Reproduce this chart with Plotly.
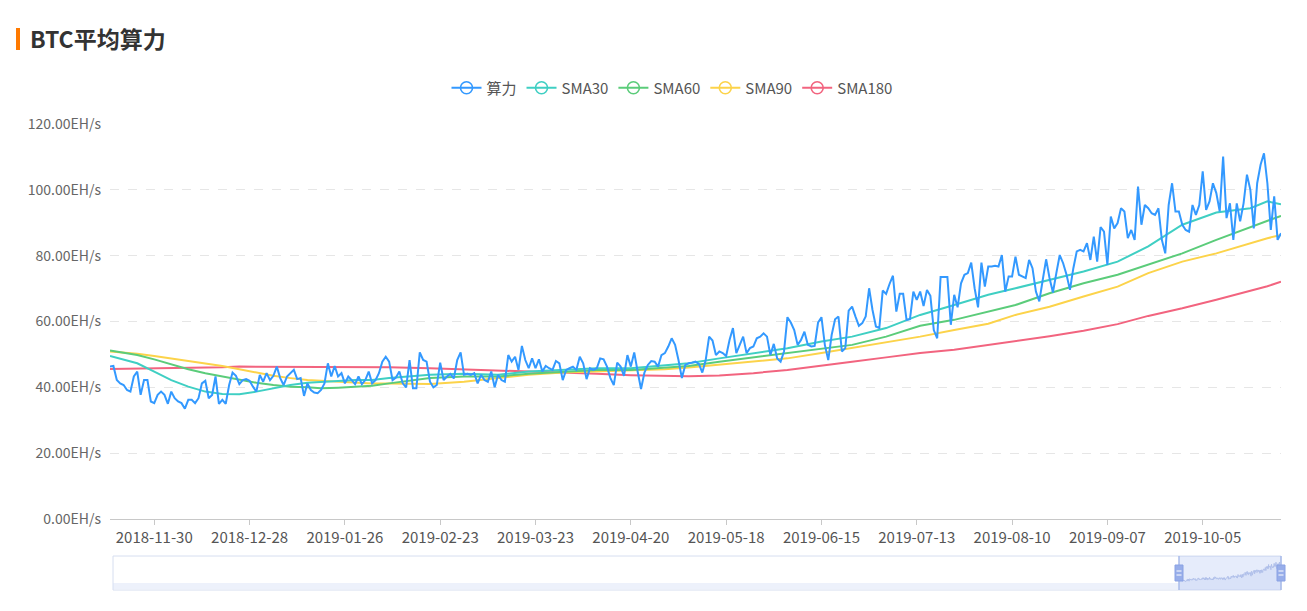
import pandas as pd
import plotly.graph_objects as go

# ---- categories (daily, one day missing in source data) ----
_all = pd.date_range("2018-11-17", "2019-10-28", freq="D")
DATES = [d.strftime("%Y-%m-%d") for d in _all if d.strftime("%Y-%m-%d") != "2019-01-08"]

TICK_LABELS = ["2018-11-30", "2018-12-28", "2019-01-26", "2019-02-23", "2019-03-23",
               "2019-04-20", "2019-05-18", "2019-06-15", "2019-07-13", "2019-08-10",
               "2019-09-07", "2019-10-05"]

# ---- 算力 (EH/s), daily ----
HASHRATE = [
    46.3, 46.5, 42.2, 41.2, 40.7, 39.2, 38.7, 43.3, 44.8, 37.7,
    42.2, 42.2, 35.7, 35.2, 37.7, 38.7, 37.7, 35.0, 38.7, 36.7,
    35.7, 35.2, 33.5, 36.2, 36.2, 35.2, 36.7, 41.2, 42.0, 36.7,
    37.7, 43.3, 35.0, 36.2, 35.0, 40.7, 44.5, 43.5, 41.0, 42.2,
    42.5, 42.0, 40.2, 38.7, 43.8, 41.7, 44.3, 42.2, 43.5, 46.3,
    42.8, 40.7, 43.3, 44.3, 45.3, 42.5, 42.8, 37.4, 41.2, 39.2,
    38.4, 38.2, 39.2, 41.2, 47.3, 43.3, 46.5, 43.3, 44.3, 41.2,
    43.3, 42.2, 41.0, 43.3, 41.0, 42.2, 44.8, 41.2, 42.2, 44.3,
    47.8, 49.3, 47.8, 42.2, 43.0, 44.8, 41.2, 40.0, 48.3, 39.7,
    39.7, 50.6, 48.3, 47.8, 41.7, 40.0, 40.7, 47.5, 42.2, 43.3,
    44.1, 42.7, 48.3, 50.6, 43.8, 44.1, 43.8, 44.3, 41.2, 43.8,
    42.2, 41.7, 44.8, 40.0, 43.8, 42.2, 41.7, 49.8, 47.8, 49.3,
    45.3, 52.6, 48.3, 45.8, 48.8, 45.8, 48.5, 44.8, 46.5, 45.8,
    45.3, 48.0, 47.3, 42.2, 45.3, 45.8, 46.3, 45.3, 49.3, 47.3,
    42.5, 45.8, 45.3, 45.8, 48.8, 48.5, 46.3, 42.8, 40.7, 47.5,
    46.3, 43.5, 49.8, 46.3, 50.6, 44.8, 39.5, 44.5, 46.8, 48.0,
    47.8, 46.3, 49.8, 50.4, 52.4, 54.9, 52.9, 48.3, 42.8, 46.8,
    47.3, 47.5, 47.8, 47.1, 44.5, 48.3, 55.4, 54.2, 49.8, 50.9,
    50.4, 49.5, 54.4, 58.0, 50.4, 52.9, 55.4, 50.4, 51.9, 52.4,
    54.9, 55.4, 56.4, 55.4, 49.8, 53.2, 48.8, 47.8, 50.9, 61.3,
    59.7, 57.4, 52.9, 54.4, 56.9, 52.9, 52.4, 52.6, 59.7, 61.3,
    52.9, 48.3, 55.9, 60.7, 61.5, 50.9, 51.9, 63.3, 64.5, 61.5,
    58.7, 59.5, 61.5, 70.1, 63.5, 58.5, 58.0, 69.4, 68.4, 71.4,
    73.9, 63.0, 68.4, 68.4, 60.5, 60.7, 69.1, 66.6, 69.1, 64.7,
    69.6, 67.8, 57.4, 54.9, 73.5, 73.5, 73.5, 59.0, 68.1, 64.3,
    71.6, 74.2, 74.7, 77.9, 70.1, 64.3, 77.9, 70.6, 76.7, 76.7,
    76.9, 76.7, 80.2, 69.1, 73.7, 73.7, 79.7, 74.2, 73.7, 73.2,
    78.7, 76.2, 69.1, 66.1, 72.6, 78.9, 73.2, 68.8, 74.7, 80.2,
    77.7, 74.2, 69.6, 76.2, 81.3, 81.8, 81.3, 83.8, 78.7, 85.8,
    78.2, 88.7, 87.3, 77.2, 91.9, 88.3, 89.9, 94.4, 93.4, 85.3,
    87.8, 84.8, 101.0, 89.4, 95.4, 94.4, 92.9, 92.4, 94.4, 84.8,
    80.7, 95.4, 102.0, 93.4, 93.4, 89.4, 87.8, 87.3, 95.4, 92.4,
    95.4, 105.6, 93.9, 96.5, 102.0, 99.0, 93.4, 110.1, 91.4, 95.9,
    84.8, 95.9, 90.4, 95.9, 104.6, 100.0, 88.3, 102.0, 107.6, 111.1,
    102.0, 87.8, 98.0, 84.8, 86.8,
]

# ---- moving averages, read at sample days (index into DATES) ----
SMA_IDX = [0, 8, 13, 18, 23, 28, 33, 38, 43, 48, 53, 58, 62, 67, 72, 77, 82, 94, 104, 114,
           123, 133, 143, 153, 163, 170, 179, 189, 199, 209, 218, 228, 238, 248, 258, 266,
           276, 286, 296, 305, 315, 325, 335, 340, 344]
SMA30 = [49.5, 47.3, 44.8, 42.2, 40.2, 38.7, 38.0, 37.9, 38.7, 39.7, 40.7, 41.4, 41.7, 41.9,
         42.2, 42.2, 42.8, 43.8, 44.1, 43.8, 44.8, 45.3, 45.8, 45.8, 46.8, 47.3, 48.8, 50.4,
         51.9, 53.9, 55.4, 58.0, 62.0, 65.0, 68.1, 70.1, 72.6, 75.2, 78.2, 82.8, 89.4, 93.1,
         94.4, 96.5, 95.6]
SMA60 = [51.2, 49.8, 48.5, 47.0, 45.5, 44.3, 43.3, 42.5, 41.4, 40.7, 40.2, 40.0, 39.7, 39.9,
         40.2, 40.5, 41.2, 42.8, 43.3, 43.3, 44.1, 44.8, 45.3, 45.3, 46.1, 46.5, 47.8, 49.1,
         50.6, 51.9, 52.9, 55.4, 58.7, 60.5, 63.0, 65.0, 68.6, 71.6, 74.2, 77.2, 80.7, 84.8,
         88.7, 90.5, 92.1]
SMA90 = [50.9, 50.2, 49.5, 48.8, 48.0, 47.3, 46.5, 45.5, 44.5, 43.5, 42.8, 42.2, 42.0, 41.7,
         41.4, 41.2, 41.2, 41.0, 41.7, 42.8, 43.8, 44.5, 44.8, 45.1, 45.5, 46.0, 46.8, 47.8,
         48.8, 50.4, 51.9, 53.6, 55.4, 57.4, 59.3, 62.0, 64.5, 67.6, 70.6, 74.7, 78.2, 80.7,
         83.8, 85.3, 86.3]
SMA180 = [45.6, 45.7, 45.8, 45.8, 45.9, 46.0, 46.1, 46.3, 46.3, 46.3, 46.3, 46.3, 46.3, 46.3,
          46.2, 46.2, 46.1, 45.8, 45.5, 45.1, 44.8, 44.5, 44.1, 43.7, 43.5, 43.4, 43.6, 44.3,
          45.3, 46.5, 47.8, 49.1, 50.4, 51.4, 52.8, 54.0, 55.5, 57.2, 59.2, 61.7, 64.0, 66.6,
          69.2, 70.7, 72.1]

NAMES = ["算力", "SMA30", "SMA60", "SMA90", "SMA180"]
COLORS = ["#3399ff", "#3fcfc3", "#5bcc7a", "#fcd34a", "#f2647f"]

SMA_DATES = [DATES[i] for i in SMA_IDX]
series = [(DATES, HASHRATE), (SMA_DATES, SMA30), (SMA_DATES, SMA60),
          (SMA_DATES, SMA90), (SMA_DATES, SMA180)]

FONT = "Noto Sans CJK SC, Noto Sans, sans-serif"

# page offset (default body margin) and geometry helpers (window pixel -> paper)
OFF = 8
W, H = 1307 - 2 * OFF, 611 - 2 * OFF
ML, MT = 110 - OFF, 124 - OFF
MR = W - (1281 - OFF)
MB = H - (591 - OFF)
PW, PH = W - ML - MR, H - MT - MB
def px(x):
    return (x - OFF - ML) / PW
def py(y):
    return (H - MB - (y - OFF)) / PH

fig = go.Figure()

for k in [4, 3, 2, 1, 0]:
    xs, ys = series[k]
    fig.add_trace(go.Scatter(x=xs, y=ys, mode="lines", name=NAMES[k], legendgroup=NAMES[k],
                             showlegend=False, line=dict(color=COLORS[k], width=2),
                             xaxis="x", yaxis="y"))
# legend entries
for k in range(5):
    fig.add_trace(go.Scatter(x=[None], y=[None], mode="lines+markers", name=NAMES[k],
                             legendgroup=NAMES[k], showlegend=True,
                             line=dict(color=COLORS[k], width=2),
                             marker=dict(symbol="circle-open", size=12, color=COLORS[k],
                                         line=dict(width=1.6)),
                             xaxis="x", yaxis="y"))

# data-zoom shadow inside the selected window
fig.add_trace(go.Scatter(x=DATES, y=HASHRATE, mode="lines", showlegend=False,
                         line=dict(color="#b9c6ea", width=1), fill="tozeroy",
                         fillcolor="rgba(190,205,240,0.25)", xaxis="x2", yaxis="y2",
                         hoverinfo="skip"))

SEL0, SEL1 = px(1179), px(1281)
shapes = [
    dict(type="rect", xref="paper", yref="paper", x0=px(16), x1=px(20), y0=py(50), y1=py(28),
         fillcolor="#ff7a00", line=dict(width=0)),
    dict(type="rect", xref="paper", yref="paper", x0=px(113), x1=px(1281), y0=py(590), y1=py(556),
         fillcolor="rgba(0,0,0,0)", line=dict(color="#d6def0", width=1)),
    dict(type="rect", xref="paper", yref="paper", x0=px(113), x1=SEL0, y0=py(589), y1=py(583),
         fillcolor="rgba(215,224,246,0.45)", line=dict(width=0)),
    dict(type="rect", xref="paper", yref="paper", x0=SEL0, x1=SEL1, y0=py(590), y1=py(556),
         fillcolor="rgba(140,170,235,0.22)", line=dict(width=0)),
]
for xe in (1179, 1281):
    shapes.append(dict(type="line", xref="paper", yref="paper", x0=px(xe), x1=px(xe),
                       y0=py(590), y1=py(556), line=dict(color="#a9bbea", width=1.5)))
    shapes.append(dict(type="rect", xref="paper", yref="paper", x0=px(xe - 4), x1=px(xe + 4),
                       y0=py(581), y1=py(565), fillcolor="#98aeea", line=dict(color="#8aa2e4", width=1)))
    for yy in (571, 575):
        shapes.append(dict(type="line", xref="paper", yref="paper", x0=px(xe - 2.5), x1=px(xe + 2.5),
                           y0=py(yy), y1=py(yy), line=dict(color="#ffffff", width=1)))

fig.update_layout(
    width=W, height=H,
    margin=dict(l=ML, r=MR, t=MT, b=MB, autoexpand=False),
    paper_bgcolor="white", plot_bgcolor="white",
    font=dict(family=FONT, size=13, color="#666"),
    title=dict(text="<b>BTC平均算力</b>", x=(30 - OFF) / W, xref="container", xanchor="left",
               y=1 - (40 - OFF) / H, yref="container", yanchor="middle",
               font=dict(family=FONT, size=23, color="#333")),
    legend=dict(orientation="h", x=px(672), xanchor="center", y=py(88), yanchor="middle",
                font=dict(family=FONT, size=15, color="#555"), itemwidth=30,
                tracegroupgap=0, bgcolor="rgba(0,0,0,0)"),
    showlegend=True,
    xaxis=dict(type="category", categoryorder="array", categoryarray=DATES,
               range=[0, len(DATES) - 1], domain=[0, 1], anchor="y", automargin=False,
               tickmode="array", tickvals=TICK_LABELS, ticktext=TICK_LABELS,
               showgrid=False, showline=True, linecolor="#c8c8c8", linewidth=1,
               ticks="outside", ticklen=5, tickcolor="#c8c8c8",
               tickfont=dict(size=15, color="#555"), zeroline=False),
    yaxis=dict(range=[0, 120], dtick=20, tick0=0, domain=[py(519), 1.0], anchor="x",
               automargin=False,
               tickformat=".2f", ticksuffix="EH/s", showgrid=True, gridcolor="#e6e6e6",
               griddash="dash", gridwidth=1, zeroline=False, showline=False,
               tickfont=dict(size=14, color="#666"), ticklabelstandoff=8),
    xaxis2=dict(type="category", categoryorder="array", categoryarray=DATES,
                range=[0, len(DATES) - 1], domain=[SEL0, SEL1], anchor="y2",
                visible=False, fixedrange=True, automargin=False),
    yaxis2=dict(range=[0, 135], domain=[py(590), py(556)], anchor="x2", visible=False,
                fixedrange=True, automargin=False),
    shapes=shapes,
    hovermode="x",
)

fig.write_html("out.html")
